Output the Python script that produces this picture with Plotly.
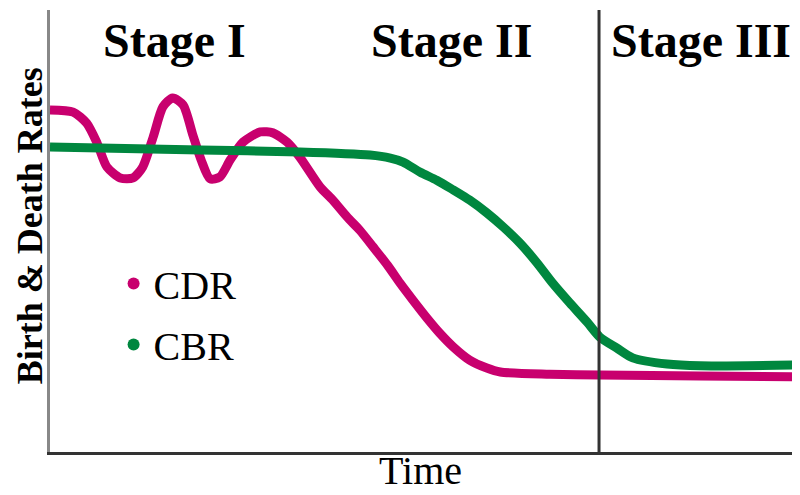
import plotly.graph_objects as go

# Time axis (0-100) and rates (0-100)
cdr_time = [0, 3.1, 4.9, 6.3, 7.6, 9.4, 11.1, 12.4, 13.8, 15.1, 16.4, 17.8, 19.1, 20.2, 21.4,
            22.7, 24.1, 25.8, 28.1, 29.8, 31.7, 33.4, 36.1, 37.8, 39.7, 41.4, 43.2, 45.1,
            46.8, 48.5, 50.4, 52.1, 53.9, 56.1, 58.4, 60.2, 66.8, 73.5, 86.9, 100]
cdr_rate = [77.4, 76.9, 74.4, 69.9, 64.5, 62.0, 62.0, 64.5, 71.3, 78.1, 80.1, 78.5, 71.7, 66.1, 61.8,
            62.2, 66.1, 70.1, 72.4, 72.2, 70.1, 66.7, 60.0, 57.0, 53.2, 50.2, 46.4, 42.3,
            38.2, 34.4, 30.3, 26.9, 23.8, 20.8, 19.0, 18.1, 17.6, 17.4, 17.2, 17.0]

cbr_time = [0, 20.1, 33.4, 42.8, 45.5, 47.2, 49.5, 51.7, 53.9, 56.1, 58.4, 60.6, 62.8,
            65.1, 67.2, 69.5, 71.8, 73.5, 75.8, 77.9, 82.5, 86.9, 100]
cbr_rate = [69.0, 68.3, 67.9, 67.2, 66.5, 65.6, 63.3, 61.5, 59.3, 57.0, 54.1, 50.9, 47.3,
            42.8, 38.2, 33.7, 29.4, 26.0, 23.5, 21.3, 19.9, 19.5, 19.7]

stage_labels = ["Stage I", "Stage II", "Stage III"]
stage_centers = [16.7, 53.7, 87.0]
stage_boundary = 73.4

series_names = ["CDR", "CBR"]
series_colors = ["#C8006E", "#00873F"]

fig = go.Figure()
for name, xs, ys, col in zip(series_names, [cdr_time, cbr_time], [cdr_rate, cbr_rate], series_colors):
    fig.add_trace(go.Scatter(x=xs, y=ys, mode="lines", showlegend=False,
                             line=dict(color=col, width=9, shape="spline", smoothing=0.7),
                             hoverinfo="skip"))
for i, (name, col) in enumerate(zip(series_names, series_colors)):
    fig.add_trace(go.Scatter(x=[None], y=[None], mode="markers", name=name,
                             legendgroup=name,
                             marker=dict(color=col, size=14, symbol="circle")))

fig.add_shape(type="line", x0=stage_boundary, x1=stage_boundary, y0=0, y1=1,
              xref="x", yref="paper", line=dict(color="#333333", width=3))

serif = "Liberation Serif, Times New Roman, serif"
for lab, cx in zip(stage_labels, stage_centers):
    fig.add_annotation(x=cx, y=0.932, xref="x", yref="paper", text="<b>" + lab + "</b>",
                       showarrow=False, xanchor="center", yanchor="middle",
                       font=dict(family=serif, size=48, color="#000000"))

fig.add_annotation(x=-0.0267, y=0.511, xref="paper", yref="paper",
                   text="<b>Birth &amp; Death Rates</b>", textangle=-90, showarrow=False,
                   xanchor="center", yanchor="middle",
                   font=dict(family=serif, size=36, color="#000000"))
fig.add_annotation(x=0.495, y=-0.041, xref="paper", yref="paper", text="Time",
                   showarrow=False, xanchor="center", yanchor="middle",
                   font=dict(family=serif, size=40, color="#000000"))

# page body has an 8px margin: size the figure so the plot sits where the reference has it
fig.update_layout(
    width=792, height=487,
    margin=dict(l=42, r=2, t=2, b=43),
    paper_bgcolor="white", plot_bgcolor="white",
    xaxis=dict(range=[0, 100], showgrid=False, zeroline=False, showticklabels=False,
               ticks="", showline=True, linecolor="#333333", linewidth=3),
    yaxis=dict(range=[0, 100], showgrid=False, zeroline=False, showticklabels=False,
               ticks="", showline=True, linecolor="#888888", linewidth=3),
    legend=dict(x=0.085, y=0.455, xanchor="left", yanchor="top", bgcolor="rgba(0,0,0,0)",
                font=dict(family=serif, size=40, color="#000000"),
                tracegroupgap=6, itemsizing="constant"),
    showlegend=True,
)

fig.write_html("out.html")
